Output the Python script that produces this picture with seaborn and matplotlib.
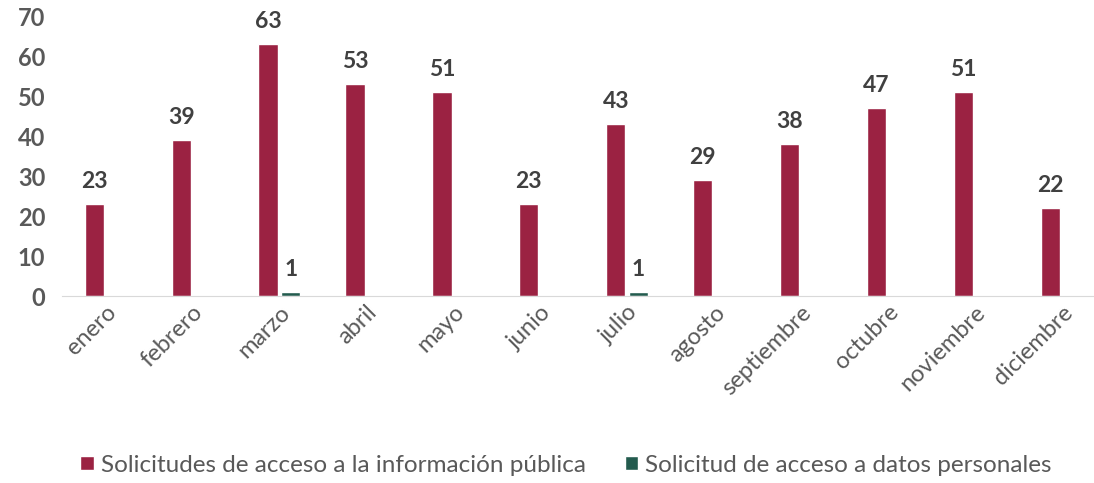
import pandas as pd
import seaborn as sns
import matplotlib.pyplot as plt

meses = ['enero', 'febrero', 'marzo', 'abril', 'mayo', 'junio', 'julio',
         'agosto', 'septiembre', 'octubre', 'noviembre', 'diciembre']
publica = [23, 39, 63, 53, 51, 23, 43, 29, 38, 47, 51, 22]
personales = [0, 0, 1, 0, 0, 0, 1, 0, 0, 0, 0, 0]
series = ['Solicitudes de acceso a la información pública',
          'Solicitud de acceso a datos personales']
colores = ['#9B2242', '#235B4E']

df = pd.DataFrame({'mes': meses * 2,
                   'valor': publica + personales,
                   'serie': [series[0]] * 12 + [series[1]] * 12})

sns.set_style('white')
plt.rcParams['font.family'] = ['Lato', 'DejaVu Sans']

fig = plt.figure(figsize=(10.94, 4.83), dpi=100)
ax = fig.add_axes([62 / 1094, 1 - 296 / 483, 1 - 62 / 1094, 280 / 483])

sns.barplot(data=df, x='mes', y='valor', hue='serie', palette=colores,
            saturation=1, width=0.52, gap=0.15, ax=ax, legend=True)

for cont in ax.containers:
    for bar in cont:
        h = bar.get_height()
        if h > 0:
            ax.text(bar.get_x() + bar.get_width() / 2, h + 3.0, f'{int(h)}',
                    ha='center', va='bottom', fontsize=16.5, fontweight='bold',
                    color='#404040')

ax.set_ylim(0, 70)
ax.set_xlim(-0.5, 11.37)
ax.set_yticks(range(0, 71, 10))
ax.set_xlabel('')
ax.set_ylabel('')
for s in ['top', 'right', 'left']:
    ax.spines[s].set_visible(False)
ax.spines['bottom'].set_color('#D9D9D9')
ax.tick_params(axis='y', length=0, labelsize=17, labelcolor='#595959', pad=12)
for t in ax.get_yticklabels():
    t.set_fontweight('bold')
ax.tick_params(axis='x', length=0, labelsize=17, labelcolor='#595959', pad=4)
plt.setp(ax.get_xticklabels(), rotation=45, ha='right', rotation_mode='anchor')

h, l = ax.get_legend_handles_labels()
fig.legend(h, l, loc='center', bbox_to_anchor=(566 / 1094, 1 - 465 / 483), ncol=2,
           frameon=False, fontsize=17.5, labelcolor='#595959', handlelength=0.55,
           handleheight=0.55, handletextpad=0.3, columnspacing=1.6)
ax.get_legend().remove()

fig.savefig('out.png', dpi=100)
